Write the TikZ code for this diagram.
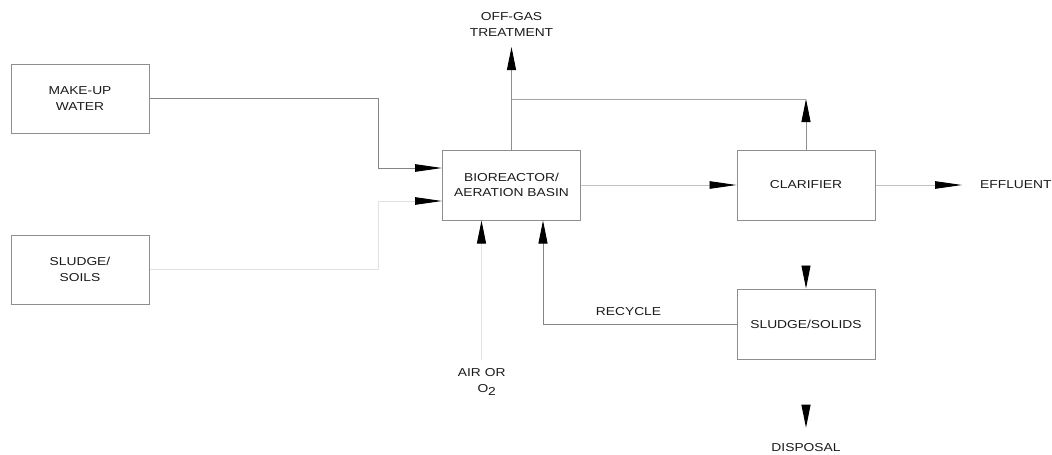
\documentclass[tikz,border=0pt]{standalone}
\usepackage{fontspec}
\setmainfont{Liberation Sans}[FakeStretch=1.2]
\usetikzlibrary{arrows.meta}
\definecolor{boxc}{HTML}{8E8E8E}
\definecolor{txt}{HTML}{1A1A1A}
\definecolor{lmid}{HTML}{858585}
\definecolor{llight}{HTML}{C2C2C2}
\definecolor{lvlight}{HTML}{E2E2E2}
\begin{document}
\begin{tikzpicture}[x=1pt,y=-1pt,
  font=\fontsize{11.5}{15.5}\selectfont,
  box/.style={draw=boxc, line width=1pt, minimum width=138pt, minimum height=69pt,
    align=center, inner sep=0pt, text=txt},
  lbl/.style={align=center, text=txt, inner sep=0pt},
  harr/.style={-{Triangle[length=27pt,width=7.5pt,color=black]}, line width=0.9pt},
  varr/.style={-{Triangle[length=23pt,width=9pt,color=black]}, line width=0.9pt}]
\useasboundingbox (0,0) rectangle (1052,455);
% nodes
\node[box] (mw) at (80,98.5) {MAKE-UP\\WATER};
\node[box] (ss) at (80,269.5) {SLUDGE/\\SOILS};
\node[box, minimum height=70pt] (bio) at (511.5,185) {BIOREACTOR/\\AERATION BASIN};
\node[box, minimum height=70pt] (cl) at (806,185) {CLARIFIER};
\node[box, minimum height=70pt] (sl) at (806,324) {SLUDGE/SOLIDS};
\node[lbl] (og) at (511.5,24.5) {OFF-GAS\\TREATMENT};
\node[lbl, anchor=west] (ef) at (980,185) {EFFLUENT};
\node[lbl] (air) at (481.7,382) {AIR OR\\\hspace*{10pt}O\raisebox{-3pt}{2}};
\node[lbl] (disp) at (806,448) {DISPOSAL};
\node[lbl] (rec) at (628.5,311.5) {RECYCLE};
\coordinate (ogtip) at (511.5,47);
\coordinate (j) at (805,99);
\coordinate (airs) at (481.5,360);
% connectors
\draw[harr, draw=lmid] (mw.east) -- ++(229,0) |- ([yshift=17pt]bio.west);
\draw[harr, draw=lvlight] (ss.east) -- ++(229,0) |- ([yshift=-16pt]bio.west);
\draw[varr, draw=boxc] (bio.north) -- (bio.north |- ogtip);
\draw[varr, draw=boxc] (cl.north) -- (cl.north |- j);
\draw[draw=boxc!80!white, line width=0.9pt] (cl.north |- j) -- (bio.north |- j);
\draw[harr, draw=llight] (bio.east) -- (cl.west);
\draw[harr, draw=llight] (cl.east) -- ([xshift=-18pt]ef.west);
\draw[varr] ([yshift=-45pt]cl.south) -- (sl.north);
\draw[varr] ([yshift=-46pt]sl.south) -- ([yshift=16pt]disp.north);
\draw[varr, draw=lmid] (sl.west) -| ([xshift=31.5pt]bio.south);
\draw[varr, draw=lvlight] (airs) -- (airs |- bio.south);
\end{tikzpicture}
\end{document}
